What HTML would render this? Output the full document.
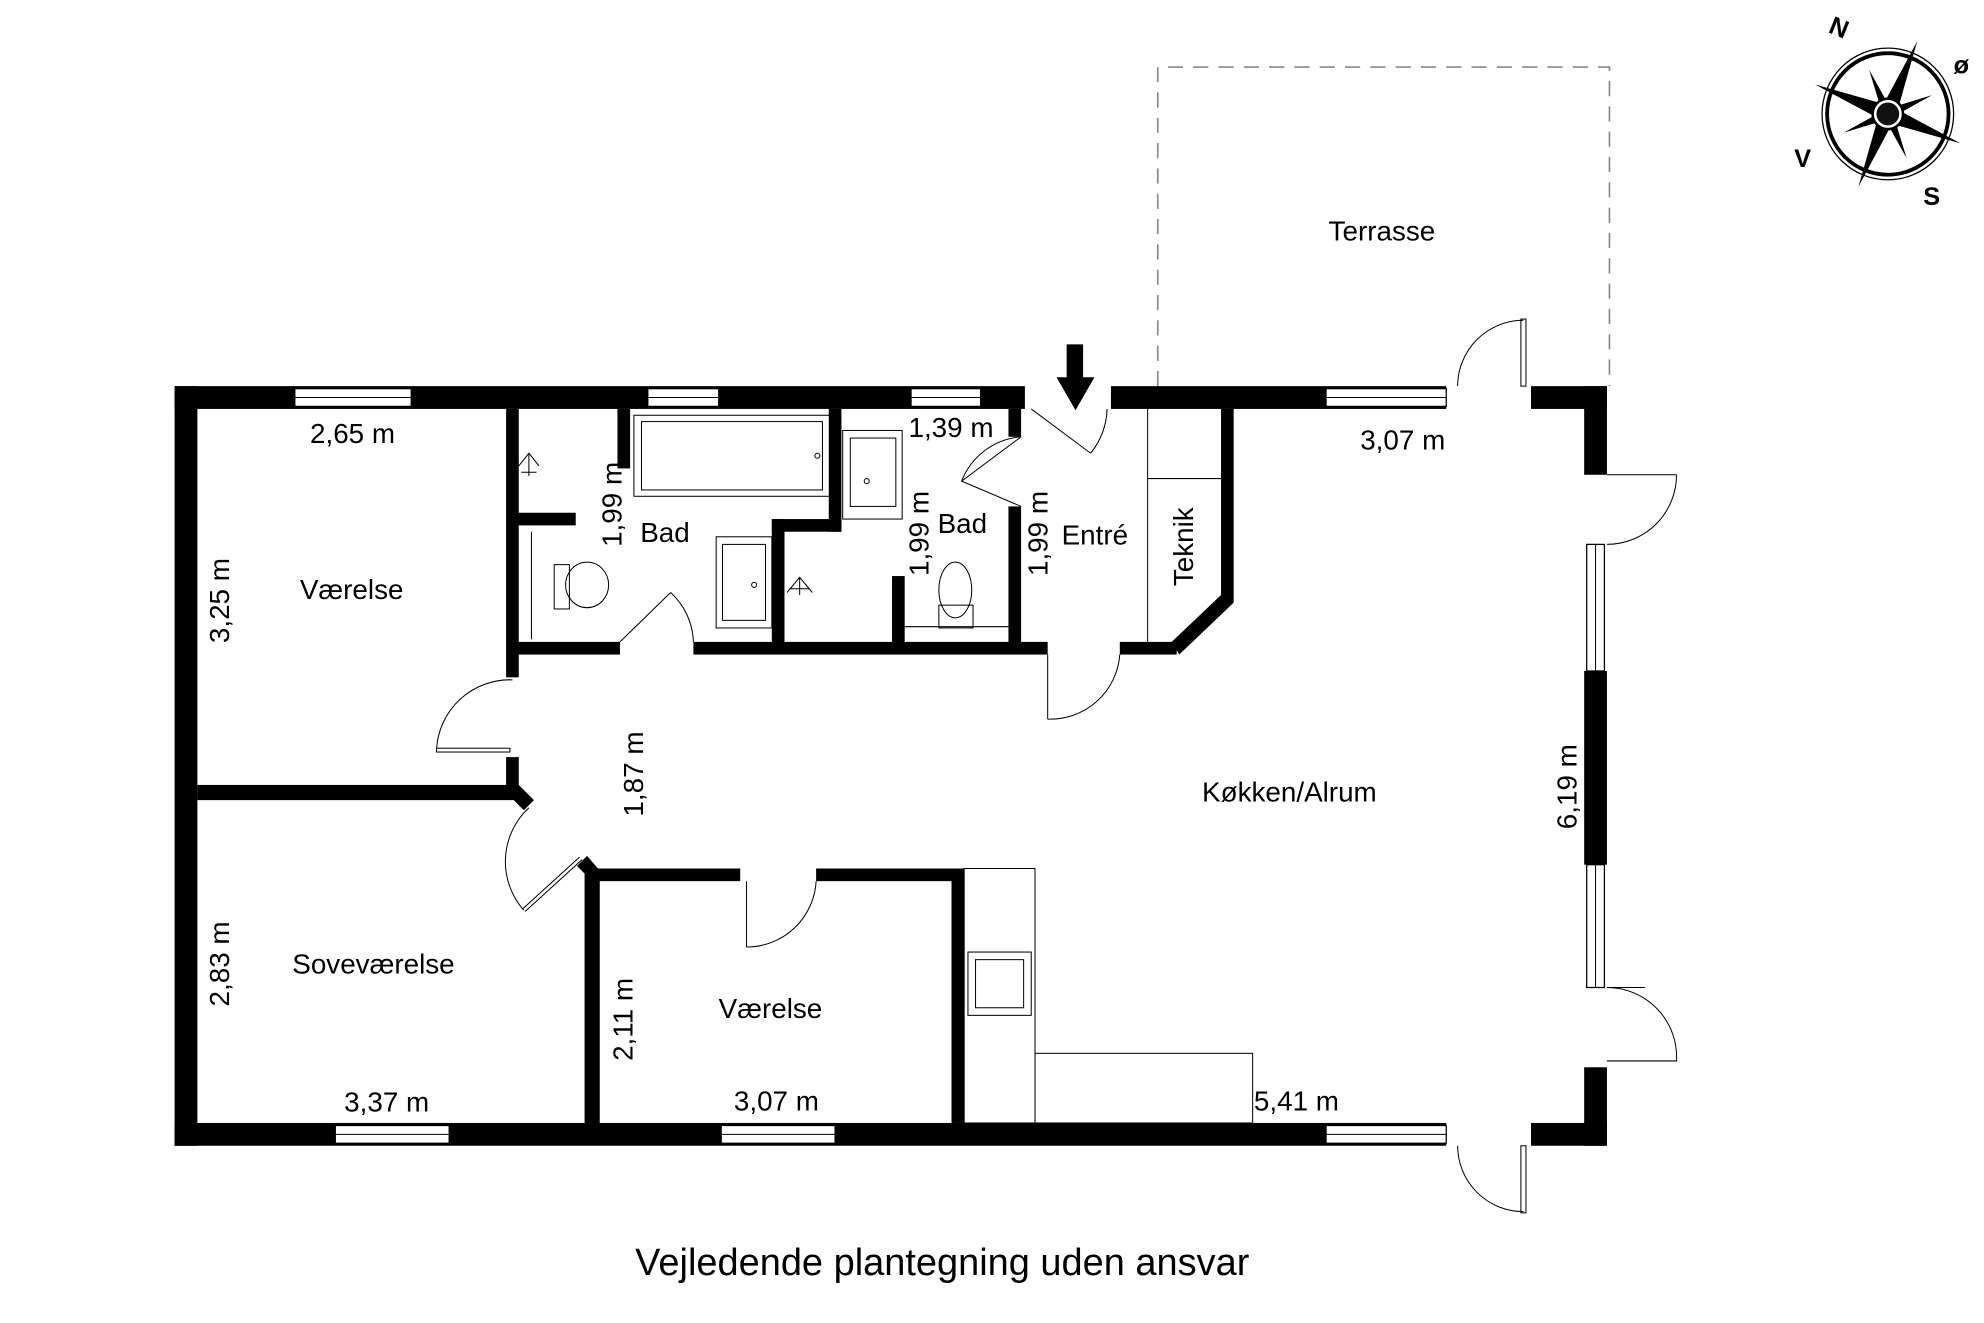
<!DOCTYPE html>
<html><head><meta charset="utf-8"><style>
html,body{margin:0;padding:0;background:#fff;}
svg{display:block}
text{font-family:"Liberation Sans",Arial,sans-serif;fill:#000}
</style></head><body>
<svg width="1984" height="1323" viewBox="0 0 1568 1045" preserveAspectRatio="none" xmlns="http://www.w3.org/2000/svg">
<rect width="1568" height="1045" fill="#fff"/>
<path d="M915 305 V53 H1272 V305" fill="none" stroke="#888" stroke-width="1.3" stroke-dasharray="12,8"/>
<g fill="#000">
<rect x="138" y="305" width="672" height="18"/>
<rect x="878" y="305" width="265" height="18"/>
<rect x="1210" y="305" width="60" height="18"/>
<rect x="138" y="305" width="18" height="600"/>
<rect x="138" y="887" width="1005" height="18"/>
<rect x="1210" y="887" width="60" height="18"/>
<rect x="1252" y="305" width="18" height="70"/>
<rect x="1252" y="530" width="18" height="153"/>
<rect x="1252" y="843" width="18" height="62"/>
<rect x="400" y="323" width="10" height="212"/>
<rect x="400" y="598" width="10" height="28"/>
<rect x="156" y="620" width="250" height="12"/>
<polygon points="400,626 410,620 422,632 414,640"/>
<rect x="405" y="507" width="85" height="10"/>
<rect x="548" y="507" width="280" height="10"/>
<rect x="885" y="507" width="45" height="10"/>
<polygon points="926,507 965,470 975,476 932,517"/>
<rect x="965" y="323" width="10" height="153"/>
<rect x="488" y="323" width="10" height="47"/>
<rect x="405" y="405" width="50" height="10"/>
<rect x="655" y="323" width="10" height="97"/>
<rect x="610" y="410" width="55" height="10"/>
<rect x="610" y="410" width="10" height="100"/>
<rect x="705" y="455" width="10" height="55"/>
<rect x="797" y="323" width="10" height="22"/>
<rect x="797" y="400" width="10" height="110"/>
<rect x="468" y="686" width="117" height="10"/>
<rect x="645" y="686" width="117" height="10"/>
<rect x="462" y="686" width="12" height="201"/>
<polygon points="456,684 464,676 476,690 468,696"/>
<rect x="752" y="686" width="10" height="201"/>
</g>
<g fill="#fff" stroke="#000" stroke-width="1">
<rect x="233" y="307" width="92" height="14"/>
<rect x="512" y="307" width="56" height="14"/>
<rect x="720" y="307" width="55" height="14"/>
<rect x="1048" y="307" width="95" height="14"/>
<rect x="265" y="889" width="90" height="14"/>
<rect x="570" y="889" width="90" height="14"/>
<rect x="1048" y="889" width="95" height="14"/>
<rect x="1254" y="430" width="14" height="100"/>
<rect x="1254" y="683" width="14" height="97"/>
</g>
<g stroke="#000" stroke-width="0.8" fill="none">
<line x1="233" y1="314" x2="325" y2="314"/><line x1="512" y1="314" x2="568" y2="314"/><line x1="720" y1="314" x2="775" y2="314"/>
<line x1="1048" y1="314" x2="1143" y2="314"/><line x1="265" y1="896" x2="355" y2="896"/><line x1="570" y1="896" x2="660" y2="896"/>
<line x1="1048" y1="896" x2="1143" y2="896"/><line x1="1261" y1="430" x2="1261" y2="530"/><line x1="1261" y1="683" x2="1261" y2="780"/>
<rect x="501" y="328" width="155" height="64"/><rect x="507" y="333" width="143" height="54"/>
<circle cx="646" cy="360" r="2"/>
<rect x="666" y="340" width="47" height="70"/><rect x="672" y="346" width="36" height="54"/><circle cx="685" cy="380" r="2"/>
<rect x="566" y="424" width="44" height="72"/><rect x="571" y="430" width="34" height="60"/><circle cx="596" cy="462" r="2"/>
<ellipse cx="464" cy="462" rx="17" ry="18"/><rect x="438" y="446" width="12" height="35"/>
<ellipse cx="755" cy="466" rx="13" ry="22"/><rect x="742" y="478" width="27" height="18"/>
<line x1="712" y1="495" x2="797" y2="495"/>
<line x1="420" y1="420" x2="420" y2="505"/>
<line x1="907" y1="323" x2="907" y2="507"/><line x1="907" y1="378" x2="965" y2="378"/>
<rect x="762" y="686" width="56" height="201"/><rect x="818" y="832" width="172" height="55"/>
<rect x="765" y="752" width="50" height="50"/><rect x="771" y="758" width="38" height="38"/>
<path d="M410 368 L418 358 L426 368 M418 358 V376 M412 373 H424"/>
<path d="M622 468 L632 456 L642 468 M632 456 V470 M624 465 H640"/>
<path d="M815 323 L862 358"/><path d="M862 358 A60 60 0 0 0 875 323"/>
<path d="M807 345 L760 380 L807 400"/><path d="M760 380 A55 55 0 0 1 807 345"/>
<path d="M490 507 L530 468"/><path d="M530 468 A55 55 0 0 1 548 507"/>
<path d="M828 517 V568"/><path d="M828 568 A55 55 0 0 0 885 517"/>
<rect x="345" y="591" width="58" height="3"/><path d="M345 592 A58 58 0 0 1 405 537"/>
<path d="M458 677 L413 718 M460 679 L415 720"/><path d="M414 719 A58 58 0 0 1 418 638"/>
<path d="M590 696 V748"/><path d="M590 748 A55 55 0 0 0 645 696"/>
<rect x="1202" y="252" width="4" height="53"/><path d="M1152 305 A52 52 0 0 1 1204 253"/>
<rect x="1202" y="905" width="4" height="53"/><path d="M1152 905 A52 52 0 0 0 1204 957"/>
<path d="M1270 375 H1325"/><path d="M1325 375 A55 55 0 0 1 1270 430"/>
<path d="M1270 780 H1300"/><path d="M1270 780 A55 55 0 0 1 1325 838 H1270"/>
</g>
<polygon points="843,272 856,272 856,298 865,298 850,324 835,298 843,298" fill="#000"/>
<g font-size="22">
<text x="245" y="350">2,65 m</text>
<text x="1075" y="355">3,07 m</text>
<text x="718" y="345">1,39 m</text>
<text x="237" y="473">Værelse</text>
<text x="506" y="428">Bad</text>
<text x="741" y="421">Bad</text>
<text x="839" y="430">Entré</text>
<text x="950" y="633">Køkken/Alrum</text>
<text x="231" y="769">Soveværelse</text>
<text x="568" y="804">Værelse</text>
<text x="272" y="878">3,37 m</text>
<text x="580" y="877">3,07 m</text>
<text x="991" y="877">5,41 m</text>
<text x="1050" y="190">Terrasse</text>
<text transform="translate(181,508) rotate(-90)">3,25 m</text>
<text transform="translate(181,795) rotate(-90)">2,83 m</text>
<text transform="translate(491,432) rotate(-90)">1,99 m</text>
<text transform="translate(734,455) rotate(-90)">1,99 m</text>
<text transform="translate(828,455) rotate(-90)">1,99 m</text>
<text transform="translate(943,463) rotate(-90)">Teknik</text>
<text transform="translate(508,645) rotate(-90)">1,87 m</text>
<text transform="translate(500,838) rotate(-90)">2,11 m</text>
<text transform="translate(1246,655) rotate(-90)">6,19 m</text>
</g>
<text x="502" y="1007" font-size="30">Vejledende plantegning uden ansvar</text>
<g transform="translate(1492,90)">
<circle r="52" fill="none" stroke="#000" stroke-width="1"/>
<circle r="48" fill="none" stroke="#000" stroke-width="3"/>
<g fill="#000" transform="rotate(22)">
<polygon points="0,-62 6,-6 0,0 -6,-6"/><polygon points="0,62 6,6 0,0 -6,6"/>
<polygon points="-62,0 -6,6 0,0 -6,-6"/><polygon points="62,0 6,6 0,0 6,-6"/>
<g transform="rotate(45)"><polygon points="0,-38 4,0 -4,0"/><polygon points="0,38 4,0 -4,0"/><polygon points="-38,0 0,4 0,-4"/><polygon points="38,0 0,4 0,-4"/></g>
</g>
<circle r="12" fill="#fff" stroke="#000" stroke-width="2"/><circle r="9" fill="#111"/>
<text x="-46" y="-62" font-size="20" font-weight="bold" transform="rotate(22,-40,-68)">N</text>
<text x="52" y="-32" font-size="20" font-weight="bold">ø</text>
<text x="-74" y="42" font-size="20" font-weight="bold">V</text>
<text x="28" y="72" font-size="20" font-weight="bold">S</text>
</g>
</svg>
</body></html>
